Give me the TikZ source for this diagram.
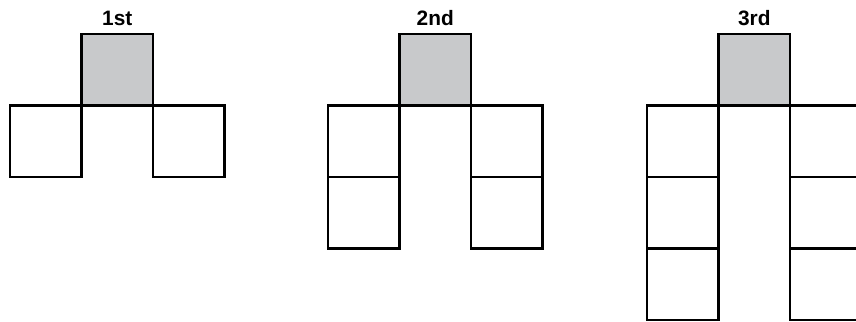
\documentclass[tikz,border=0pt]{standalone}
\usepackage{fontspec}
\setmainfont{Liberation Sans}
\usetikzlibrary{positioning}

\definecolor{cellgray}{HTML}{C8C9CB}

\begin{document}
\begin{tikzpicture}[
    cell/.style={draw=black, line width=0.9pt},
    lead/.style={cell, fill=cellgray},
    stage/.style={font=\fontsize{8.3}{10}\selectfont\bfseries, inner sep=0pt}
]

% Canvas
\useasboundingbox (0,-0.014) rectangle (11.972,4.476);
\clip (0,-0.014) rectangle (11.972,4.476);

% Stages: left edge / number of rows / label
\foreach \xo/\rows/\name in {0.14/1/1st, 4.587/2/2nd, 9.049/3/3rd}{
    % columns on both sides
    \foreach \r in {1,...,\rows}{
        \draw[cell] (\xo,3-\r) rectangle ++(1,1);
        \draw[cell] (\xo+2,3-\r) rectangle ++(1,1);
    }
    % middle column
    \draw[cell] (\xo+1,3-\rows) -- (\xo+1,3) -- (\xo+2,3) -- (\xo+2,3-\rows);
    % shaded square on top
    \draw[lead] (\xo+1,3) rectangle ++(1,1);
    \node[stage] (lbl-\name) at (\xo+1.5,4.217) {\name};
}

\end{tikzpicture}
\end{document}
